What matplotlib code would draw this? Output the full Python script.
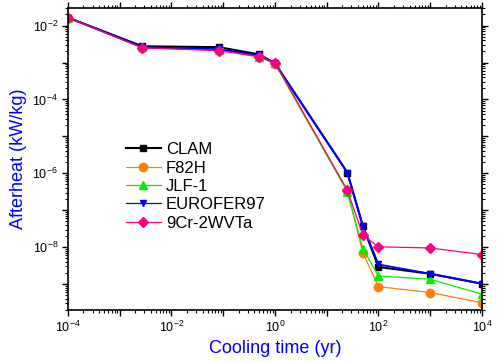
import matplotlib
matplotlib.use("Agg")
import matplotlib.pyplot as plt
import matplotlib.ticker as ticker
import numpy as np

plt.rcParams['font.family'] = ['Liberation Sans', 'DejaVu Sans']
plt.rcParams['mathtext.fontset'] = 'custom'
plt.rcParams['mathtext.rm'] = 'Liberation Sans'
plt.rcParams['mathtext.it'] = 'Liberation Sans:italic'
plt.rcParams['mathtext.bf'] = 'Liberation Sans:bold'

# cooling times (yr)
times = [1e-4, 2.74e-3, 0.083, 0.5, 1.0, 25, 50, 100, 1000, 10000]

clam = [1.65e-2, 2.75e-3, 2.6e-3, 1.65e-3, 9.5e-4, 1.05e-6, 3.7e-8, 2.9e-9, 1.9e-9, 1.02e-9]
f82h = [1.65e-2, 2.5e-3, 2.15e-3, 1.4e-3, 9.3e-4, 3.3e-7, 7.0e-9, 8.5e-10, 5.9e-10, 3.1e-10]
jlf1 = [1.65e-2, 2.55e-3, 2.2e-3, 1.45e-3, 9.5e-4, 3.2e-7, 9.0e-9, 1.65e-9, 1.35e-9, 5.3e-10]
eurofer = [1.65e-2, 2.6e-3, 2.3e-3, 1.55e-3, 9.6e-4, 1.05e-6, 3.7e-8, 3.4e-9, 1.9e-9, 1.02e-9]
cr9 = [1.65e-2, 2.5e-3, 2.1e-3, 1.45e-3, 1.0e-3, 3.5e-7, 2.1e-8, 1.02e-8, 9.5e-9, 6.3e-9]


def dec_label(v, p):
    e = int(round(np.log10(v)))
    if e % 2 != 0:
        return ""
    return r"$\mathregular{10^{%d}}$" % e


fig = plt.figure(figsize=(4.99, 3.62), dpi=100)
ax = fig.add_axes([0.136, 0.144, 0.830, 0.834])

ax.plot(times, clam, color="black", marker="s", markersize=5, linewidth=1.5, label="CLAM")
ax.plot(times, f82h, color="#FF8000", marker="o", markersize=6, linewidth=0.9, label="F82H")
ax.plot(times, jlf1, color="#00EE00", marker="^", markersize=6, linewidth=0.9, label="JLF-1")
ax.plot(times, eurofer, color="#0000FF", marker="v", markersize=5, linewidth=1.3, label="EUROFER97")
ax.plot(times, cr9, color="#FF0080", marker="D", markersize=5.5, linewidth=0.9, label="9Cr-2WVTa")

ax.set_xscale("log")
ax.set_yscale("log")
ax.set_xlim(1e-4, 1e4)
ax.set_ylim(2e-10, 3e-2)

for axis in (ax.xaxis, ax.yaxis):
    axis.set_major_locator(ticker.LogLocator(base=10, numticks=20))
    axis.set_major_formatter(ticker.FuncFormatter(dec_label))
    axis.set_minor_locator(ticker.LogLocator(base=10, subs=np.arange(2, 10), numticks=20))
    axis.set_minor_formatter(ticker.NullFormatter())

ax.tick_params(which="both", direction="out", top=True, right=True, labelsize=9, pad=3)
ax.tick_params(which="major", length=4, width=1)
ax.tick_params(which="minor", length=2, width=0.8)
for s in ax.spines.values():
    s.set_linewidth(1.2)

ax.set_xlabel("Cooling time (yr)", color="#0000FF", fontsize=13, labelpad=4)
ax.set_ylabel("Afterheat (kW/kg)", color="#0000FF", fontsize=13, labelpad=4)

leg = ax.legend(loc="upper left", bbox_to_anchor=(0.14, 0.555), frameon=False, fontsize=12,
                handlelength=2.1, handletextpad=0.3, labelspacing=0.2, borderaxespad=0,
                borderpad=0)
leg.get_lines()[3].set_linewidth(0.9)

plt.savefig("out.png", dpi=100)
